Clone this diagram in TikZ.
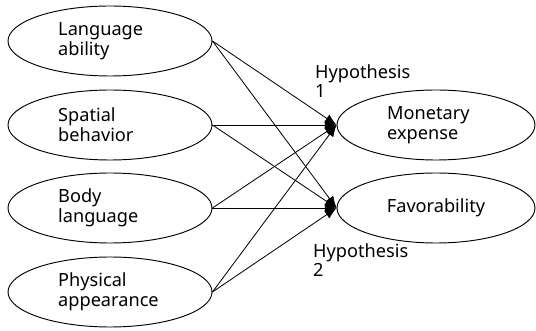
\documentclass[tikz,border=0pt]{standalone}
\usepackage{fontspec}
\setmainfont{Noto Sans}
\usepackage{tikz}
\usetikzlibrary{shapes,arrows.meta}

\begin{document}
\begin{tikzpicture}[
  factorStyle/.style={ellipse, draw, line width=0.8pt, minimum width=6.12cm, minimum height=2.1cm, inner sep=0},
  outcomeStyle/.style={ellipse, draw, line width=0.8pt, minimum width=5.94cm, minimum height=2.1cm, inner sep=0},
  labelStyle/.style={align=left, anchor=west, inner sep=0, font=\fontsize{15.5}{16.8}\selectfont},
  linkStyle/.style={line width=0.7pt, -{Latex[length=10pt, width=8pt]}}]

\useasboundingbox (0, 0) rectangle (16.08, 9.9);

\node [factorStyle] (lang) at (3.3, 8.67) {};
\node [labelStyle] (langText) at (1.74, 8.67) {Language\\ability};
\node [factorStyle] (spat) at (3.3, 6.15) {};
\node [labelStyle] (spatText) at (1.74, 6.15) {Spatial\\behavior};
\node [factorStyle] (body) at (3.3, 3.66) {};
\node [labelStyle] (bodyText) at (1.74, 3.66) {Body\\language};
\node [factorStyle] (phys) at (3.3, 1.14) {};
\node [labelStyle] (physText) at (1.74, 1.14) {Physical\\appearance};

\node [outcomeStyle] (mone) at (13.08, 6.15) {};
\node [labelStyle] (moneText) at (11.61, 6.15) {Monetary\\expense};
\node [outcomeStyle] (favo) at (13.08, 3.66) {};
\node [labelStyle, anchor=center] (favoText) at (13.08, 3.66) {Favorability};

\node [labelStyle] (hypOne) at (9.45, 7.47) {Hypothesis\\1};
\node [labelStyle] (hypTwo) at (9.39, 2.1) {Hypothesis\\2};

\foreach \src in {lang, spat, body, phys}
  \foreach \dst in {mone, favo}
    \draw [linkStyle] (\src.east) -- (\dst.west);
\end{tikzpicture}
\end{document}
